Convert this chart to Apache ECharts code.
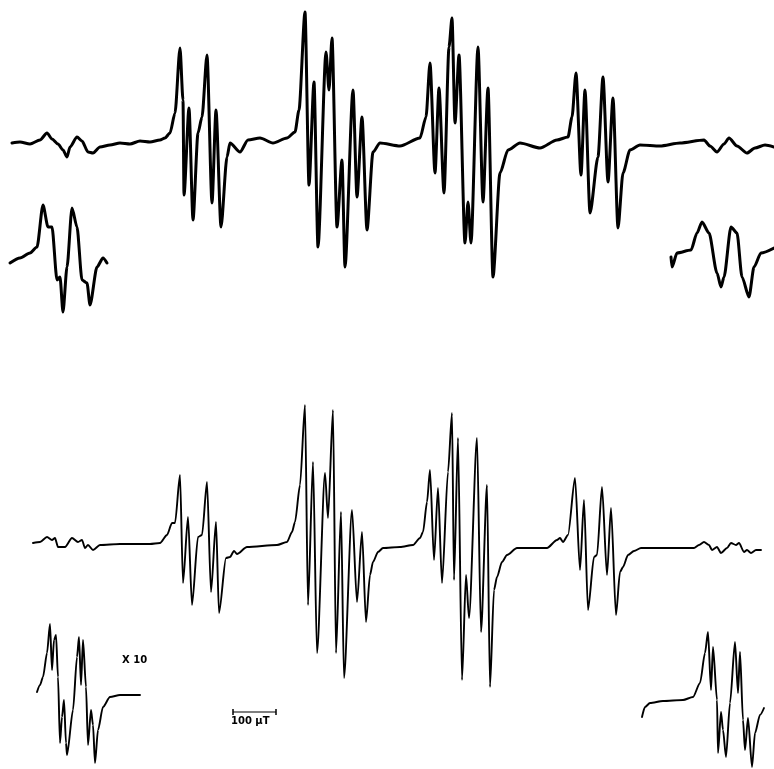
<!DOCTYPE html>
<html>
<head>
<meta charset="utf-8">
<script src="https://cdn.jsdelivr.net/npm/echarts@6/dist/echarts.min.js"></script>
<style>html,body{margin:0;padding:0;background:#fff}#c{width:774px;height:769px}</style>
</head>
<body>
<div id="c"></div>
<script>
// Field position (figure units) and signal (figure units, downward positive)
const topTrace = [[12,143],[20,142],[30,144],[40,140],[47,133],[52,139],[58,144],[63,150],[67,157],[70,147],[77,137],[82,141],[88,152],[93,153],[100,147],[110,145],[120,143],[130,144],[140,141],[150,142],[160,140],[165,138],[170,133],[175,113],[180,48],[183,100],[184,195],[189,108],[193,220],[198,133],[202,117],[207,55],[212,203],[216,110],[221,227],[227,157],[230,143],[240,152],[248,140],[260,138],[273,143],[287,138],[295,132],[299,110],[305,12],[309,185],[314,82],[318,247],[326,52],[329,90],[332,38],[337,227],[342,160],[345,267],[353,90],[357,197],[362,117],[367,230],[373,152],[380,143],[400,146],[420,138],[426,117],[430,63],[435,173],[439,88],[444,193],[449,47],[452,18],[455,123],[459,55],[465,243],[468,202],[471,243],[478,47],[483,202],[488,88],[493,277],[500,173],[508,150],[520,143],[540,148],[557,140],[568,137],[572,117],[576,73],[581,175],[585,90],[590,213],[598,157],[603,77],[608,182],[613,98],[618,228],[623,173],[630,150],[640,145],[660,146],[680,143],[704,140],[710,146],[717,152],[724,144],[729,138],[737,146],[747,153],[755,148],[765,145],[774,147]];
const topInsetLeft = [[10,263],[20,258],[30,253],[37,247],[43,205],[48,227],[52,227],[57,280],[60,277],[63,312],[67,267],[72,208],[77,227],[82,280],[87,283],[90,305],[97,267],[103,258],[107,263]];
const topInsetRight = [[671,257],[672,267],[677,253],[691,250],[697,233],[702,222],[709,233],[717,273],[721,287],[724,277],[731,227],[737,233],[742,277],[749,297],[754,267],[761,253],[774,248]];
const bottomTrace = [[33,543],[40,542],[47,537],[52,540],[55,538],[58,547],[65,547],[72,538],[78,542],[82,540],[85,548],[88,545],[93,550],[100,545],[120,544],[150,544],[160,543],[167,535],[172,523],[175,523],[180,475],[183,583],[188,517],[192,605],[198,537],[202,535],[207,482],[211,592],[216,522],[219,613],[226,558],[230,557],[234,551],[237,554],[247,547],[277,545],[287,542],[292,532],[295,522],[300,485],[305,405],[308,605],[313,462],[317,653],[325,473],[328,518],[333,410],[336,653],[341,512],[344,678],[352,510],[357,602],[362,532],[366,622],[370,575],[373,562],[378,552],[383,548],[400,547],[413,545],[420,538],[423,532],[427,502],[430,470],[434,560],[438,488],[442,583],[448,472],[452,413],[454,580],[458,438],[462,680],[466,575],[469,618],[477,438],[481,632],[487,485],[490,687],[494,590],[497,577],[502,562],[507,555],[517,548],[547,548],[557,540],[560,538],[563,542],[568,535],[575,478],[580,570],[584,500],[588,610],[594,557],[597,555],[602,487],[607,575],[611,508],[616,615],[620,572],[623,567],[628,555],[634,551],[641,548],[694,548],[699,545],[704,542],[709,545],[712,550],[717,547],[721,553],[727,548],[731,543],[736,545],[739,543],[744,552],[747,550],[751,553],[756,550],[761,550]];
const bottomInsetLeft = [[37,692],[40,685],[43,677],[47,653],[50,624],[52,670],[54,640],[56,635],[58,677],[60,743],[62,717],[64,700],[66,743],[67,755],[73,710],[77,657],[79,637],[81,685],[83,640],[86,687],[88,745],[91,710],[93,725],[95,763],[98,730],[103,707],[110,697],[120,695],[140,695]];
const bottomInsetRight = [[642,717],[645,707],[650,703],[663,701],[683,700],[693,697],[700,683],[705,653],[708,632],[711,690],[713,647],[717,700],[718,753],[721,712],[723,730],[726,757],[730,703],[735,642],[738,693],[740,652],[743,720],[745,750],[748,718],[752,767],[755,733],[760,715],[764,708]];
const scaleBar = [[233,712],[276,712]];
const gainLabel = 'X 10';
const scaleLabel = '100 \u03bcT';

const chart = echarts.init(document.getElementById('c'), null, {renderer:'canvas'});
function trace(data, w){
  return {type:'line', data:data, showSymbol:false, symbol:'none', smooth:0.25, smoothMonotone:'x', animation:false,
    lineStyle:{color:'#000', width:w, join:'round', cap:'round'}, silent:true};
}
chart.setOption({
  animation:false,
  backgroundColor:'#fff',
  grid:{left:0,right:0,top:0,bottom:0},
  xAxis:{type:'value',min:0,max:774,show:false},
  yAxis:{type:'value',min:0,max:769,inverse:true,show:false},
  series:[
    trace(topTrace,3),
    trace(topInsetLeft,3),
    trace(topInsetRight,3),
    trace(bottomTrace,1.9),
    trace(bottomInsetLeft,1.9),
    trace(bottomInsetRight,1.9),
    {type:'line', data:scaleBar, symbol:'rect', symbolSize:[1.5,6], showSymbol:true, animation:false,
     itemStyle:{color:'#000'}, lineStyle:{color:'#000',width:1.2}, silent:true}
  ],
  graphic:[
    {type:'text', left:122, top:655, style:{text:gainLabel, fill:'#000', font:'bold 10px "DejaVu Sans"'}},
    {type:'text', left:231, top:716, style:{text:scaleLabel, fill:'#000', font:'bold 10px "DejaVu Sans"'}}
  ]
});
</script>
</body>
</html>
